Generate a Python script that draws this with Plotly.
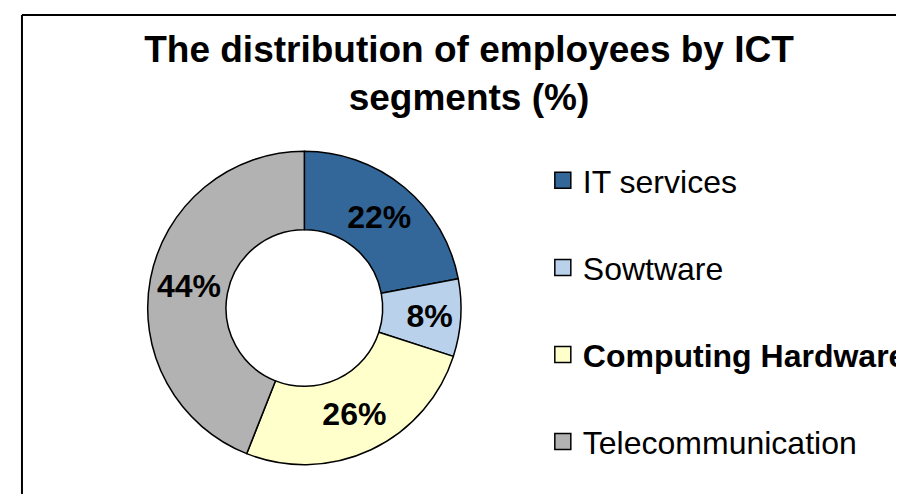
import plotly.graph_objects as go

categories = ["IT services", "Sowtware", "Computing Hardware", "Telecommunication"]
values = [22, 8, 26, 44]
colors = ["#336699", "#B9D1EA", "#FFFFCC", "#B2B2B2"]
legend_names = ["IT services", "Sowtware", "<b>Computing Hardware</b>", "Telecommunication"]

W, H = 904, 494
cx, cy, R = 297, 300, 157

fig = go.Figure()
fig.add_trace(go.Pie(
    labels=categories, values=values, sort=False, direction="clockwise", rotation=0,
    hole=0.5, marker=dict(colors=colors, line=dict(color="black", width=1.5)),
    textinfo="percent", texttemplate="%{percent:.0%}", textposition="inside",
    insidetextorientation="horizontal",
    textfont=dict(family="Liberation Sans, Arial", size=32, color="black", weight="bold"),
    showlegend=False, hoverinfo="label+percent",
    domain=dict(x=[(cx - R) / W, (cx + R) / W], y=[(H - cy - R) / H, (H - cy + R) / H]),
))
for i, (name, col) in enumerate(zip(legend_names, colors)):
    fig.add_trace(go.Scatter(
        x=[None], y=[None], mode="markers", name=name, legendgroup=f"g{i}",
        marker=dict(symbol="square", size=17, color=col, line=dict(color="black", width=1.5)),
    ))

fig.update_layout(
    width=W, height=H, margin=dict(l=0, r=0, t=0, b=0),
    paper_bgcolor="white", plot_bgcolor="white",
    font=dict(family="Liberation Sans, Arial", color="black"),
    title=dict(text="<b>The distribution of employees by ICT<br>segments (%)</b>",
               x=461 / W, xanchor="center", y=1 - 54 / H, yanchor="top",
               font=dict(size=37, family="Liberation Sans, Arial", color="black")),
    xaxis=dict(visible=False), yaxis=dict(visible=False),
    legend=dict(x=536 / W, xanchor="left", y=1 - 145 / H, yanchor="top",
                font=dict(size=32, family="Liberation Sans, Arial", color="black"),
                tracegroupgap=42.5, bgcolor="rgba(0,0,0,0)", itemclick=False),
    shapes=[
        dict(type="line", xref="paper", yref="paper", x0=14 / W, x1=1.01, y0=1 - 7 / H, y1=1 - 7 / H,
             line=dict(color="black", width=2)),
        dict(type="line", xref="paper", yref="paper", x0=14 / W, x1=14 / W, y0=-0.01, y1=1 - 7 / H,
             line=dict(color="black", width=2)),
    ],
)
fig.write_html("out.html")
